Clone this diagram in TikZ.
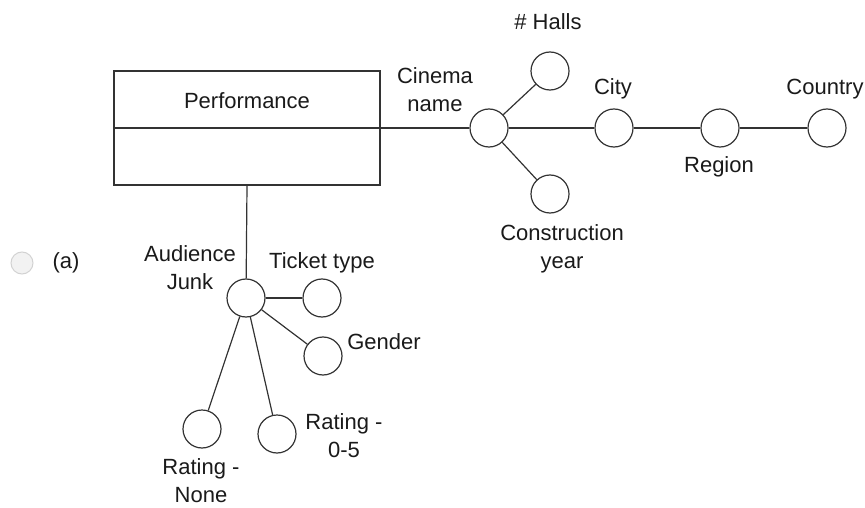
\documentclass[tikz,border=0pt]{standalone}
\usepackage{fontspec}
\setmainfont{Liberation Sans}
\definecolor{linec}{HTML}{333333}
\definecolor{txt}{HTML}{1A1A1A}
\definecolor{radiof}{HTML}{F2F2F2}
\definecolor{radiob}{HTML}{D2D2D2}
\begin{document}
\begin{tikzpicture}[x=1pt,y=-1pt,
  attr/.style={circle,draw=linec,line width=1.2pt,minimum size=38pt,inner sep=0pt},
  lbl/.style={font=\fontsize{22}{28}\selectfont,text=txt,align=center,inner sep=0pt},
  conn/.style={draw=linec,line width=1.2pt}]
\useasboundingbox (0,0) rectangle (865,508);
% radio button
\node[circle,draw=radiob,fill=radiof,line width=1pt,minimum size=22pt,inner sep=0pt] (radio) at (22,263) {};
\node[lbl] (alab) at (66,263) {(a)};
% entity box
\node[draw=linec,line width=1.2pt,minimum width=266pt,minimum height=114pt,inner sep=0pt] (perf) at (247,128) {};
\draw[conn] (perf.west) -- (perf.east);
\node[lbl] (perftxt) at (247,101) {Performance};
% attribute circles
\node[attr] (cin) at (489,128) {};
\node[attr] (halls) at (550,71) {};
\node[attr] (cy) at (550,194) {};
\node[attr] (city) at (614,128) {};
\node[attr] (region) at (720,128) {};
\node[attr] (country) at (827,128) {};
\node[attr] (aj) at (246,298) {};
\node[attr] (ticket) at (322,298) {};
\node[attr] (gender) at (323,356) {};
\node[attr] (rn) at (202,429) {};
\node[attr] (r05) at (277,434) {};
% labels
\node[lbl] (cinl) at (435,90) {Cinema\\name};
\node[lbl] (hallsl) at (548,22) {\# Halls};
\node[lbl] (cyl) at (562,249) {Construction\\year};
\node[lbl] (cityl) at (613,89) {City};
\node[lbl] (regionl) at (719,167) {Region};
\node[lbl] (countryl) at (825,89) {Country};
\node[lbl] (ajl) at (190,268) {Audience\\Junk};
\node[lbl] (ticketl) at (322,263) {Ticket type};
\node[lbl] (genderl) at (384,342) {Gender};
\node[lbl] (rnl) at (201,481) {Rating -\\None};
\node[lbl] (r05l) at (344,436) {Rating -\\0-5};
% connectors
\draw[conn] (perf.east) -- (cin);
\draw[conn] (perf.south) -- (aj);
\draw[conn] (cin) -- (halls);
\draw[conn] (cin) -- (cy);
\draw[conn] (cin) -- (city);
\draw[conn] (city) -- (region);
\draw[conn] (region) -- (country);
\draw[conn] (aj) -- (ticket);
\draw[conn] (aj) -- (gender);
\draw[conn] (aj) -- (rn);
\draw[conn] (aj) -- (r05);
\end{tikzpicture}
\end{document}
